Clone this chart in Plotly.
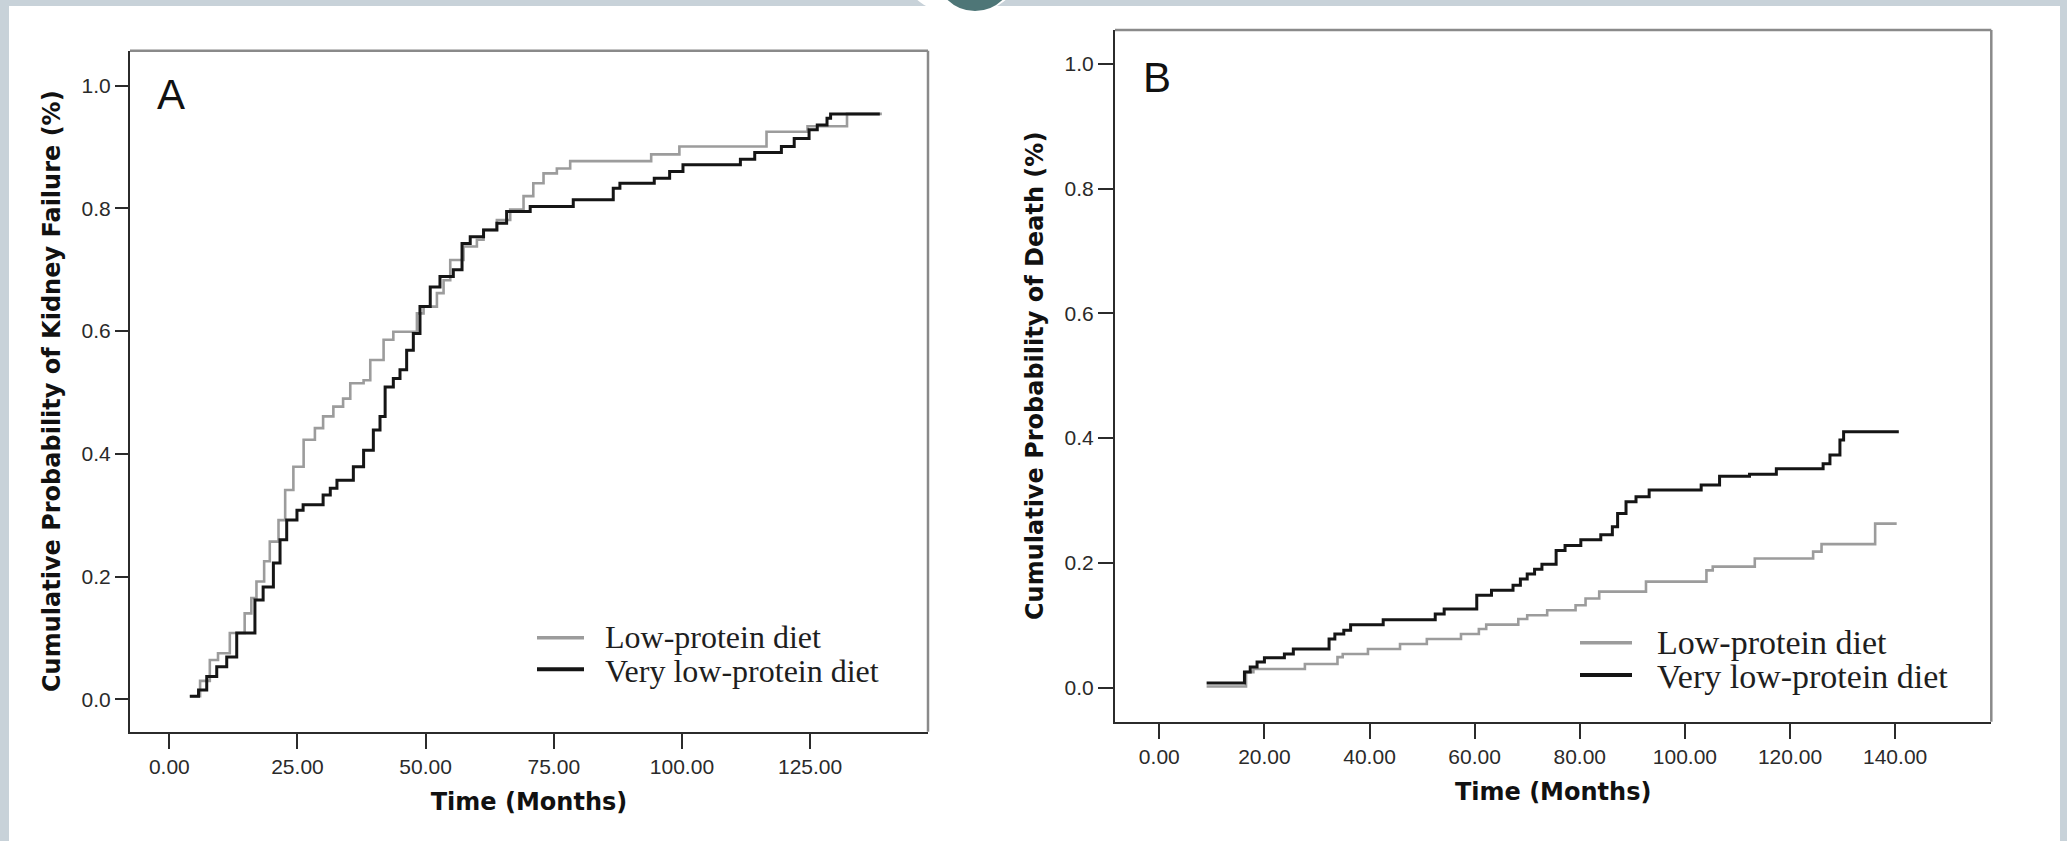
import plotly.graph_objects as go

# ---------------- data ----------------
# Panel A: cumulative probability of kidney failure
a_lpd_time = [4.0, 6.0, 7.9, 9.5, 11.8, 14.7, 16.0, 17.0, 18.5, 19.6, 21.3, 22.6, 24.2, 26.2,
              28.4, 30.0, 32.0, 33.9, 35.3, 37.9, 39.2, 41.8, 43.7, 48.3, 49.6, 52.2, 53.5,
              54.8, 57.4, 60.0, 61.3, 63.9, 66.5, 69.1, 71.0, 73.0, 75.6, 78.2, 94.0, 99.5,
              116.5, 124.5, 132.2, 139.0]
a_lpd_prob = [0.005, 0.030, 0.064, 0.075, 0.108, 0.140, 0.165, 0.192, 0.225, 0.257, 0.292, 0.341,
              0.379, 0.423, 0.442, 0.461, 0.477, 0.490, 0.515, 0.520, 0.553, 0.586, 0.599, 0.629,
              0.640, 0.662, 0.683, 0.716, 0.738, 0.749, 0.765, 0.781, 0.798, 0.820, 0.841, 0.857,
              0.865, 0.877, 0.888, 0.901, 0.925, 0.934, 0.954, 0.954]

a_vlpd_time = [4.0, 5.7, 7.3, 9.25, 11.2, 13.15, 16.7, 18.3, 20.3, 21.6, 22.9, 24.9, 26.1, 30.0,
               31.4, 32.7, 35.9, 37.9, 39.8, 41.1, 42.1, 43.7, 45.0, 46.3, 47.6, 48.9, 50.9,
               52.8, 55.4, 57.1, 58.7, 61.3, 63.9, 65.8, 70.4, 78.8, 86.6, 87.9, 94.6, 97.6,
               100.2, 111.4, 114.2, 119.4, 121.9, 124.8, 126.4, 128.3, 129.0, 138.6]
a_vlpd_prob = [0.005, 0.015, 0.037, 0.053, 0.069, 0.108, 0.162, 0.183, 0.222, 0.260, 0.292, 0.308,
               0.317, 0.333, 0.344, 0.357, 0.379, 0.406, 0.439, 0.461, 0.509, 0.523, 0.537, 0.569,
               0.596, 0.640, 0.672, 0.689, 0.700, 0.743, 0.754, 0.765, 0.776, 0.795, 0.803, 0.814,
               0.833, 0.841, 0.849, 0.860, 0.871, 0.880, 0.891, 0.901, 0.914, 0.928, 0.936, 0.947,
               0.954, 0.954]

# Panel B: cumulative probability of death
b_lpd_time = [9.0, 16.5, 17.9, 27.7, 33.9, 34.9, 39.7, 45.8, 50.9, 57.4, 60.8, 62.2, 68.3, 70.0,
              73.8, 79.2, 81.1, 83.7, 92.6, 104.1, 105.3, 113.3, 124.4, 126.0, 136.2, 140.3]
b_lpd_prob = [0.002, 0.025, 0.030, 0.038, 0.049, 0.054, 0.062, 0.070, 0.078, 0.086, 0.094, 0.101,
              0.110, 0.116, 0.124, 0.132, 0.143, 0.154, 0.170, 0.188, 0.194, 0.207, 0.218, 0.230,
              0.263, 0.263]

b_vlpd_time = [9.0, 16.2, 17.3, 18.6, 20.0, 23.8, 25.5, 32.3, 33.4, 35.1, 36.4, 42.6, 52.5, 54.2,
               60.4, 63.2, 67.3, 68.7, 70.0, 71.4, 72.8, 75.5, 77.2, 80.2, 84.0, 86.2, 87.2, 88.8,
               90.7, 93.2, 103.1, 106.6, 112.3, 117.4, 126.3, 127.6, 129.5, 130.2, 140.7]
b_vlpd_prob = [0.0075, 0.025, 0.033, 0.041, 0.048, 0.054, 0.062, 0.078, 0.086, 0.092, 0.101, 0.109,
               0.118, 0.126, 0.148, 0.156, 0.164, 0.174, 0.182, 0.190, 0.198, 0.220, 0.228, 0.237,
               0.245, 0.258, 0.279, 0.298, 0.306, 0.317, 0.325, 0.339, 0.342, 0.351, 0.359, 0.373,
               0.397, 0.410, 0.410]

series_names = ["Low-protein diet", "Very low-protein diet"]
a_xticks = [0, 25, 50, 75, 100, 125]
b_xticks = [0, 20, 40, 60, 80, 100, 120, 140]
y_ticks = [0.0, 0.2, 0.4, 0.6, 0.8, 1.0]

# ---------------- styling ----------------
W, H = 2067, 841
def px(x):
    return x / W
def py(y):
    return 1 - y / H

GRAY = "#9c9c9c"
BLACK = "#151515"
AXC = "#2b2b2b"
TICKFONT = dict(family="Liberation Sans, Arial", size=21, color="#2a2a2a")
TITLEFONT = dict(family="DejaVu Sans, Liberation Sans", size=24, color="#111111", weight="bold")
LEGFONT_A = dict(family="Liberation Serif, Times New Roman", size=32, color="#1e1e1e")
LEGFONT_B = dict(family="Liberation Serif, Times New Roman", size=34, color="#1e1e1e")

fig = go.Figure()
fig.add_trace(go.Scatter(x=a_lpd_time, y=a_lpd_prob, mode="lines", line_shape="hv",
                         line=dict(color=GRAY, width=2.6), name=series_names[0],
                         xaxis="x", yaxis="y", showlegend=False))
fig.add_trace(go.Scatter(x=a_vlpd_time, y=a_vlpd_prob, mode="lines", line_shape="hv",
                         line=dict(color=BLACK, width=3), name=series_names[1],
                         xaxis="x", yaxis="y", showlegend=False))
fig.add_trace(go.Scatter(x=b_lpd_time, y=b_lpd_prob, mode="lines", line_shape="hv",
                         line=dict(color=GRAY, width=2.6), name=series_names[0],
                         xaxis="x2", yaxis="y2", showlegend=False))
fig.add_trace(go.Scatter(x=b_vlpd_time, y=b_vlpd_prob, mode="lines", line_shape="hv",
                         line=dict(color=BLACK, width=3), name=series_names[1],
                         xaxis="x2", yaxis="y2", showlegend=False))

common = dict(showline=True, linecolor=AXC, linewidth=2, ticks="outside", tickwidth=2,
              tickcolor=AXC, showgrid=False, zeroline=False, tickfont=TICKFONT, mirror=False)

fig.update_layout(
    width=W, height=H, margin=dict(l=0, r=0, t=0, b=0),
    paper_bgcolor="white", plot_bgcolor="white", showlegend=False,
    xaxis=dict(domain=[px(130), px(928)], range=[-7.67, 148.0], tickvals=a_xticks,
               tickformat=".2f", anchor="y", ticklen=15,
               title=dict(text="Time (Months)", font=TITLEFONT, standoff=16), **common),
    yaxis=dict(domain=[py(731.7), py(50.7)], range=[-0.0528, 1.057], tickvals=y_ticks,
               tickformat=".1f", anchor="x", ticklen=13,
               title=dict(text="Cumulative Probability of Kidney Failure (%)", font=TITLEFONT,
                          standoff=14), **common),
    xaxis2=dict(domain=[px(1115), px(1991.3)], range=[-8.43, 158.3], tickvals=b_xticks,
                tickformat=".2f", anchor="y2", ticklen=15,
                title=dict(text="Time (Months)", font=TITLEFONT, standoff=16), **common),
    yaxis2=dict(domain=[py(721.7), py(30)], range=[-0.0545, 1.054], tickvals=y_ticks,
                tickformat=".1f", anchor="x2", ticklen=15,
                title=dict(text="Cumulative Probability of Death (%)", font=TITLEFONT,
                           standoff=14), **common),
)

shapes = []
# outer slide border (grey-blue)
BORDER = "#c8d2d9"
shapes += [
    dict(type="rect", xref="paper", yref="paper", x0=0, x1=px(9), y0=0, y1=1,
         fillcolor=BORDER, line_width=0, layer="below"),
    dict(type="rect", xref="paper", yref="paper", x0=0, x1=1, y0=py(6), y1=1,
         fillcolor=BORDER, line_width=0, layer="below"),
    dict(type="rect", xref="paper", yref="paper", x0=px(2060), x1=1, y0=0, y1=1,
         fillcolor=BORDER, line_width=0, layer="below"),
    dict(type="circle", xref="paper", yref="paper", x0=px(893), x1=px(1030), y0=py(16), y1=py(-120),
         fillcolor="white", line_width=0, layer="below"),
    dict(type="circle", xref="paper", yref="paper", x0=px(935), x1=px(1015), y0=py(11), y1=py(-70),
         fillcolor="#4e7677", line_width=0, layer="below"),
]
# top/right frame borders
for xd, yd in (("x domain", "y domain"), ("x2 domain", "y2 domain")):
    shapes.append(dict(type="line", xref=xd, yref=yd, x0=0, x1=1, y0=1, y1=1,
                       line=dict(color="#8a8a8a", width=2.5)))
    shapes.append(dict(type="line", xref=xd, yref=yd, x0=1, x1=1, y0=0, y1=1,
                       line=dict(color="#8a8a8a", width=2.5)))
# legend samples
shapes += [
    dict(type="line", xref="paper", yref="paper", x0=px(537), x1=px(584), y0=py(637.7), y1=py(637.7),
         line=dict(color=GRAY, width=3.5)),
    dict(type="line", xref="paper", yref="paper", x0=px(537), x1=px(584), y0=py(669.3), y1=py(669.3),
         line=dict(color=BLACK, width=4)),
    dict(type="line", xref="paper", yref="paper", x0=px(1580), x1=px(1632), y0=py(642.7), y1=py(642.7),
         line=dict(color=GRAY, width=3.5)),
    dict(type="line", xref="paper", yref="paper", x0=px(1580), x1=px(1632), y0=py(675), y1=py(675),
         line=dict(color=BLACK, width=4)),
]

annotations = [
    dict(text="A", xref="paper", yref="paper", x=px(171), y=py(95), xanchor="center", yanchor="middle",
         showarrow=False, font=dict(family="Liberation Sans, Arial", size=42, color="#111111")),
    dict(text="B", xref="paper", yref="paper", x=px(1157), y=py(77), xanchor="center", yanchor="middle",
         showarrow=False, font=dict(family="Liberation Sans, Arial", size=42, color="#111111")),
    dict(text=series_names[0], xref="paper", yref="paper", x=px(603), y=py(637), xanchor="left",
         yanchor="middle", showarrow=False, font=LEGFONT_A),
    dict(text=series_names[1], xref="paper", yref="paper", x=px(603), y=py(671), xanchor="left",
         yanchor="middle", showarrow=False, font=LEGFONT_A),
    dict(text=series_names[0], xref="paper", yref="paper", x=px(1655), y=py(642), xanchor="left",
         yanchor="middle", showarrow=False, font=LEGFONT_B),
    dict(text=series_names[1], xref="paper", yref="paper", x=px(1655), y=py(676), xanchor="left",
         yanchor="middle", showarrow=False, font=LEGFONT_B),
]

fig.update_layout(shapes=shapes, annotations=annotations)

fig.write_html("out.html", config={"displayModeBar": False},
               post_script="document.body.style.margin='0';document.body.style.overflow='hidden';")
